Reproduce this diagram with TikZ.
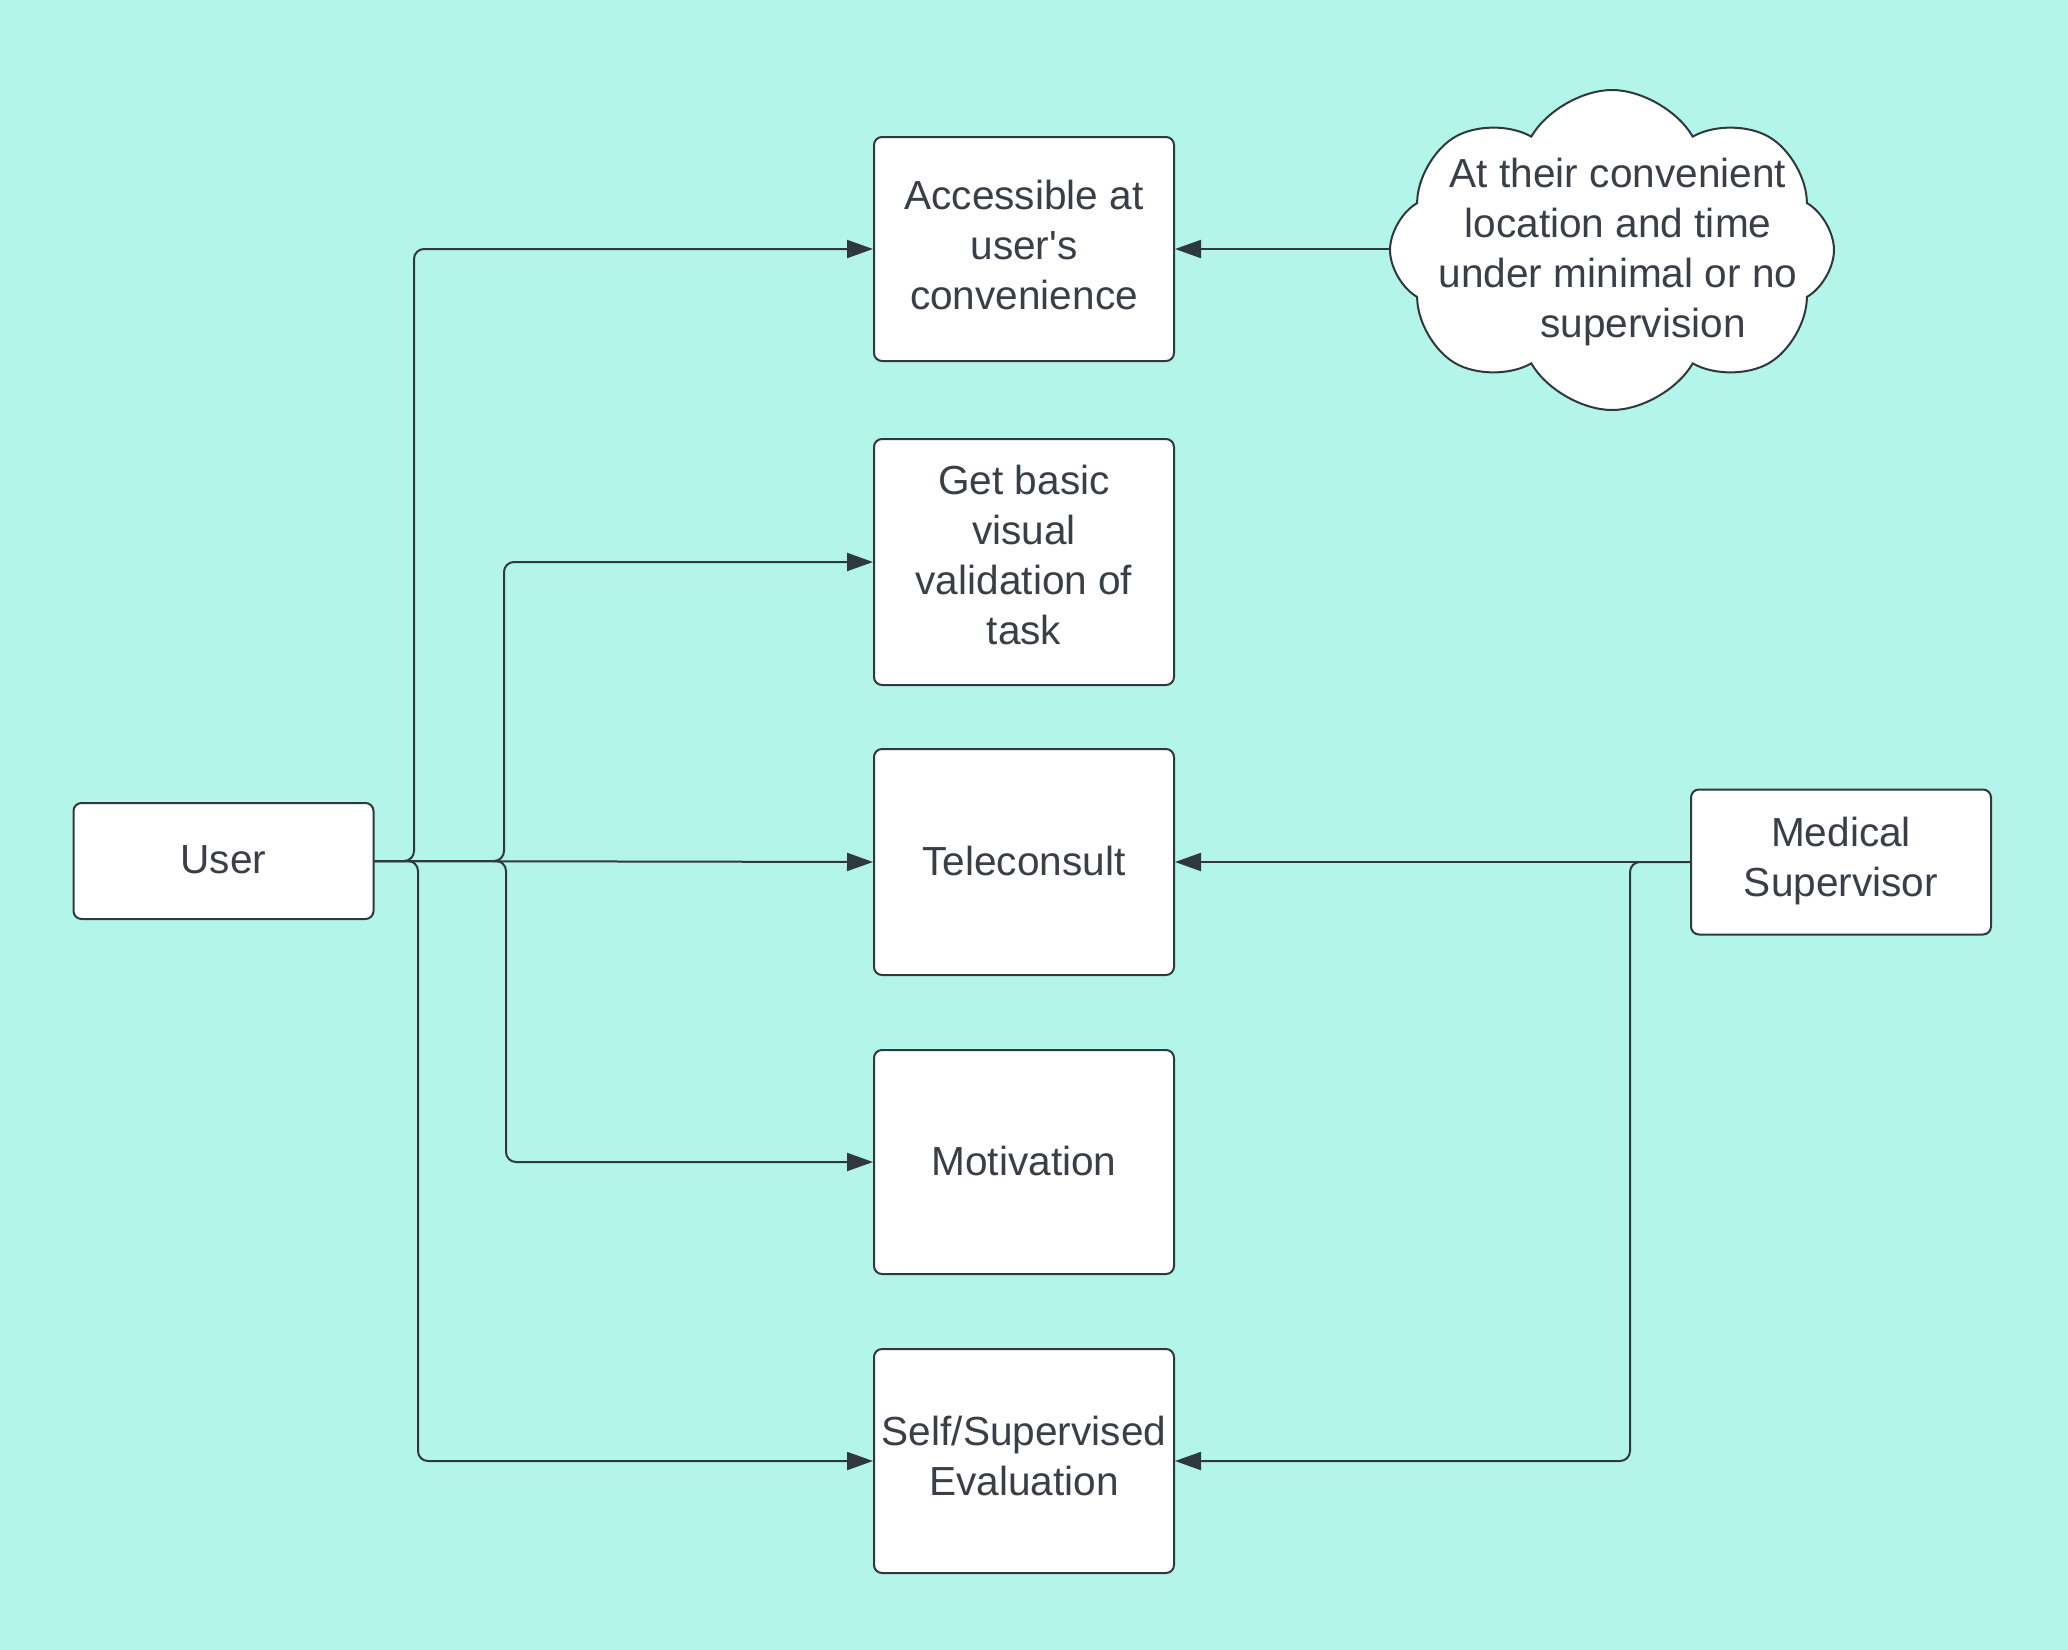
\documentclass[tikz,border=0pt]{standalone}
\usepackage{fontspec}
\setmainfont{Liberation Sans}
\usetikzlibrary{arrows.meta,shapes.symbols}
\definecolor{bg}{HTML}{B4F5EA}
\definecolor{ink}{HTML}{3A3F47}
\definecolor{edge}{HTML}{2F383F}
\newcommand{\boxtext}[2]{\raisebox{#1}[\height][\depth]{\parbox{146pt}{\centering #2}}}
\newcommand{\lift}[2]{\raisebox{#1}[\height][\depth]{#2}}
\tikzset{
  box/.style={draw=edge,line width=1pt,fill=white,rounded corners=4pt,align=center,
    text=ink,minimum width=150pt,inner sep=2pt,font=\fontsize{20.3pt}{25pt}\selectfont},
  conn/.style={draw=edge,line width=1pt,rounded corners=5pt,-{Triangle[length=13pt,width=9pt]}},
}
\begin{document}
\begin{tikzpicture}[x=0.5pt,y=-0.5pt]
\fill[bg] (0,0) rectangle (2068,1650);
\useasboundingbox (0,0) rectangle (2068,1650);

\node[box,minimum height=58pt] (user) at (223.5,861) {\lift{0.5pt}{User}};
\node[box,minimum height=112pt] (acc) at (1024,249) {\boxtext{2pt}{Accessible at\\user\textquotesingle s\\convenience}};
\node[box,minimum height=123pt] (vis) at (1024,562) {\boxtext{3.3pt}{Get basic\\visual\\validation of\\task}};
\node[box,minimum height=113pt] (tele) at (1024,862) {\lift{0.7pt}{Teleconsult}};
\node[box,minimum height=112pt] (mot) at (1024,1162) {\lift{0.7pt}{Motivation}};
\node[box,minimum height=112pt] (self) at (1024,1461) {\boxtext{2.6pt}{Self/Supervised\\Evaluation}};
\node[box,minimum height=72.5pt] (med) at (1841,862) {\boxtext{0.7pt}{Medical\\Supervisor}};

\node[cloud,draw=edge,line width=1pt,fill=white,cloud puffs=8,cloud puff arc=120,
  aspect=1.4,minimum width=222pt,minimum height=160pt,inner sep=0pt] (cloud) at (1612,250) {};
\node[align=center,text=ink,font=\fontsize{20.3pt}{25pt}\selectfont] (cloudtext) at (1618,252)
  {At their convenient\\location and time\\under minimal or no\\\hspace*{25pt}supervision};

\coordinate (j1) at (414,0);
\coordinate (j2) at (504,0);
\coordinate (j3) at (418,0);
\coordinate (j4) at (506,0);
\coordinate (j5) at (1630,0);

\draw[conn] (user.east) -| (j1 |- acc.west) -- (acc.west);
\draw[conn] (user.east) -| (j2 |- vis.west) -- (vis.west);
\draw[conn] (user.east) -- (tele.west);
\draw[conn] (user.east) -| (j4 |- mot.west) -- (mot.west);
\draw[conn] (user.east) -| (j3 |- self.west) -- (self.west);

\draw[conn] (med.west) -- (tele.east);
\draw[conn] (med.west) -| (j5 |- self.east) -- (self.east);
\draw[conn] (cloud.west |- acc.east) -- (acc.east);
\end{tikzpicture}
\end{document}
